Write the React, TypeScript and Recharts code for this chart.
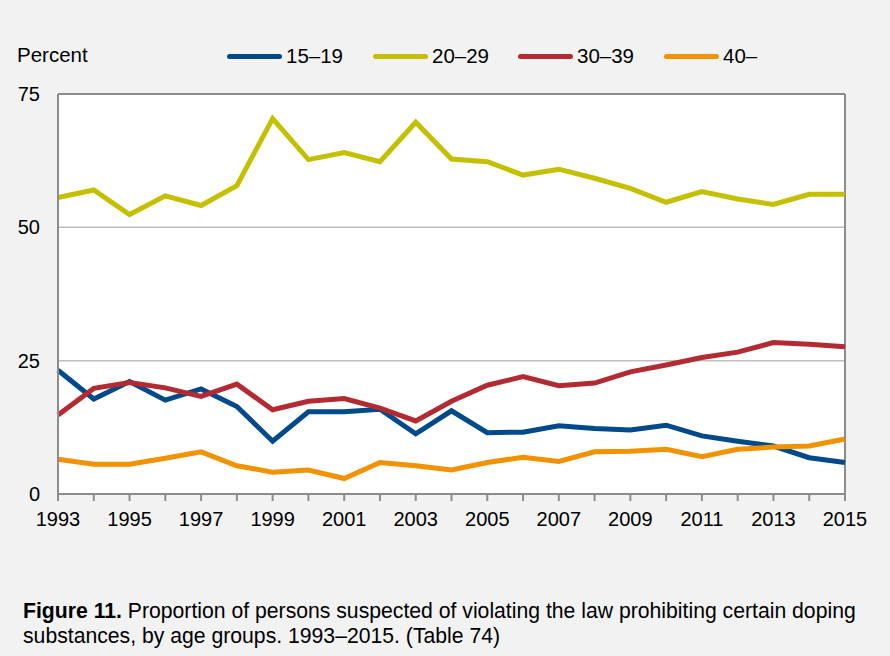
import React from "react";
import { LineChart, Line, XAxis, YAxis, CartesianGrid, ReferenceLine } from "recharts";

const years = [1993, 1994, 1995, 1996, 1997, 1998, 1999, 2000, 2001, 2002, 2003, 2004, 2005, 2006, 2007, 2008, 2009, 2010, 2011, 2012, 2013, 2014, 2015];
const age15to19 = [23.2, 17.8, 21.1, 17.6, 19.7, 16.4, 9.9, 15.4, 15.4, 15.9, 11.3, 15.6, 11.5, 11.6, 12.8, 12.3, 12.0, 12.9, 10.9, 9.9, 9.0, 6.8, 5.9];
const age20to29 = [55.6, 57.0, 52.4, 55.9, 54.1, 57.8, 70.4, 62.7, 64.0, 62.3, 69.7, 62.8, 62.3, 59.8, 60.9, 59.2, 57.3, 54.7, 56.7, 55.3, 54.3, 56.2, 56.2];
const age30to39 = [14.8, 19.8, 20.9, 19.9, 18.3, 20.6, 15.8, 17.4, 17.9, 16.1, 13.7, 17.4, 20.4, 22.0, 20.3, 20.8, 22.9, 24.2, 25.6, 26.6, 28.4, 28.1, 27.6];
const age40plus = [6.5, 5.6, 5.6, 6.7, 7.9, 5.3, 4.1, 4.5, 2.9, 5.9, 5.3, 4.5, 5.9, 6.9, 6.1, 7.9, 8.0, 8.4, 7.0, 8.4, 8.8, 9.0, 10.3];

const seriesNames = ["15–19", "20–29", "30–39", "40–"];
const seriesKeys = ["a", "b", "c", "d"];
const seriesColors = ["#004a8b", "#c4c000", "#b42a32", "#f39200"];
const yTicks = [0, 25, 50, 75];

const data = years.map((y, i) => ({
  year: y,
  a: age15to19[i],
  b: age20to29[i],
  c: age30to39[i],
  d: age40plus[i],
}));

const font = '"Liberation Sans", Arial, sans-serif';
const legendX = [227, 373, 518, 664];

export default function App() {
  return (
    <div
      style={{
        position: "fixed",
        left: 0,
        top: 0,
        width: 890,
        height: 656,
        background: "#f2f2f2",
        fontFamily: font,
        color: "#000",
        overflow: "hidden",
      }}
    >
      <LineChart
        width={890}
        height={656}
        data={data}
        margin={{ top: 94, right: 45, bottom: 122, left: 18 }}
      >
        <CartesianGrid vertical={false} stroke="#bfbfbf" strokeWidth={1.5} fill="#ffffff" />
        <XAxis
          dataKey="year"
          type="number"
          domain={[1993, 2015]}
          ticks={years}
          interval={0}
          height={40}
          tickFormatter={(v: number) => (v % 2 === 1 ? String(v) : "")}
          stroke="#8c8c8c"
          strokeWidth={2}
          tickSize={7}
          tickMargin={11}
          tick={{ fill: "#000", fontSize: 20, fontFamily: font }}
        />
        <YAxis
          domain={[0, 75]}
          ticks={yTicks}
          width={40}
          stroke="#8c8c8c"
          strokeWidth={2}
          tickLine={false}
          tickSize={0}
          tickMargin={18}
          tick={{ fill: "#000", fontSize: 20, fontFamily: font }}
        />
        <ReferenceLine y={75} stroke="#8c8c8c" strokeWidth={2} />
        <ReferenceLine x={2015} stroke="#8c8c8c" strokeWidth={2} />
        {seriesKeys.map((k, i) => (
          <Line
            key={k}
            dataKey={k}
            name={seriesNames[i]}
            stroke={seriesColors[i]}
            strokeWidth={5}
            dot={false}
            type="linear"
            isAnimationActive={false}
          />
        ))}
      </LineChart>

      <div style={{ position: "absolute", left: 17, top: 43, fontSize: 20.5, lineHeight: "24px" }}>Percent</div>
      {seriesNames.map((n, i) => (
        <div
          key={n}
          style={{ position: "absolute", left: legendX[i], top: 44, height: 24, display: "flex", alignItems: "center" }}
        >
          <div style={{ width: 55, height: 5, borderRadius: 3, background: seriesColors[i] }} />
          <span style={{ marginLeft: 4, fontSize: 20.5, lineHeight: "24px" }}>{n}</span>
        </div>
      ))}

      <div style={{ position: "absolute", left: 23, top: 598, width: 866, fontSize: 21.2, lineHeight: "25px", whiteSpace: "nowrap" }}>
        <b>Figure 11.</b> Proportion of persons suspected of violating the law prohibiting certain doping
        <br />
        substances, by age groups. 1993–2015. (Table 74)
      </div>
    </div>
  );
}
